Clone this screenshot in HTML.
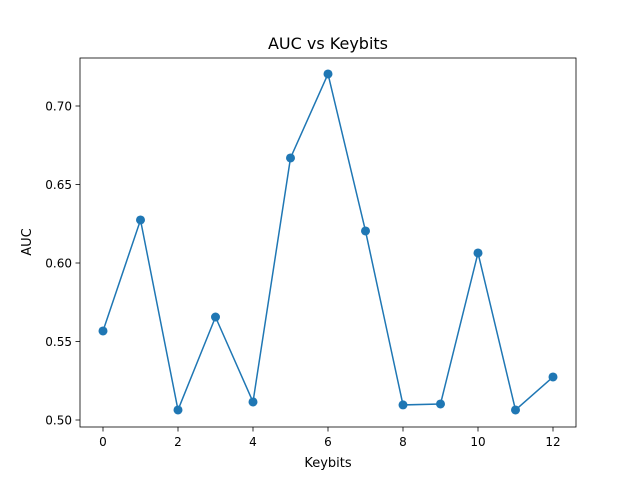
<!DOCTYPE html>
<html><head><meta charset="utf-8"><style>body{margin:0;background:#fff}svg{font-family:"DejaVu Sans","Liberation Sans",sans-serif}</style></head>
<body>
<svg id="chart" width="640" height="480"></svg>
<script>
const keybits=[0,1,2,3,4,5,6,7,8,9,10,11,12];
const auc=[0.5567,0.6274,0.5064,0.5656,0.5115,0.6669,0.7204,0.6204,0.5096,0.5102,0.6064,0.5064,0.5274];
const xTicks=[0,2,4,6,8,10,12];
const yTicks=[0.50,0.55,0.60,0.65,0.70];
const NS="http://www.w3.org/2000/svg";
const svg=document.getElementById('chart');
const L=80,R=576,T=58,B=427;
const X=v=>103+(v-0)*(553-103)/12;
const Y=v=>420-(v-0.5)*(420-106)/0.2;
function el(t,a,p){const e=document.createElementNS(NS,t);for(const k in a)e.setAttribute(k,a[k]);(p||svg).appendChild(e);return e;}
const title=el('text',{x:328,y:49,'text-anchor':'middle','font-size':16,fill:'#000'});title.textContent='AUC vs Keybits';


xTicks.forEach(v=>{const g=el('g',{});


el('line',{x1:X(v),x2:X(v),y1:B,y2:B+4.5,stroke:'#000','stroke-width':0.8},g);
const t=el('text',{x:X(v),y:B+19,'text-anchor':'middle','font-size':12},g);t.textContent=v;});
yTicks.forEach(v=>{const g=el('g',{});


el('line',{x1:L-4.5,x2:L,y1:Y(v),y2:Y(v),stroke:'#000','stroke-width':0.8},g);
const t=el('text',{x:L-8,y:Y(v)+4.5,'text-anchor':'end','font-size':12},g);t.textContent=v.toFixed(2);});
const xl=el('text',{x:328,y:467,'text-anchor':'middle','font-size':13});xl.textContent='Keybits';


const yl=el('text',{x:31,y:242,'text-anchor':'middle','font-size':13,transform:'rotate(-90 31 242)'});yl.textContent='AUC';


const line=el('polyline',{points:keybits.map((k,i)=>X(k)+','+Y(auc[i])).join(' '),fill:'none',stroke:'#1f77b4','stroke-width':1.5});


keybits.forEach((k,i)=>{const c=el('circle',{cx:X(k),cy:Y(auc[i]),r:4.5,fill:'#1f77b4'});

});
const fr=el('rect',{x:L,y:T,width:R-L,height:B-T,fill:'none',stroke:'#000','stroke-width':0.8});


</script>
</body></html>
